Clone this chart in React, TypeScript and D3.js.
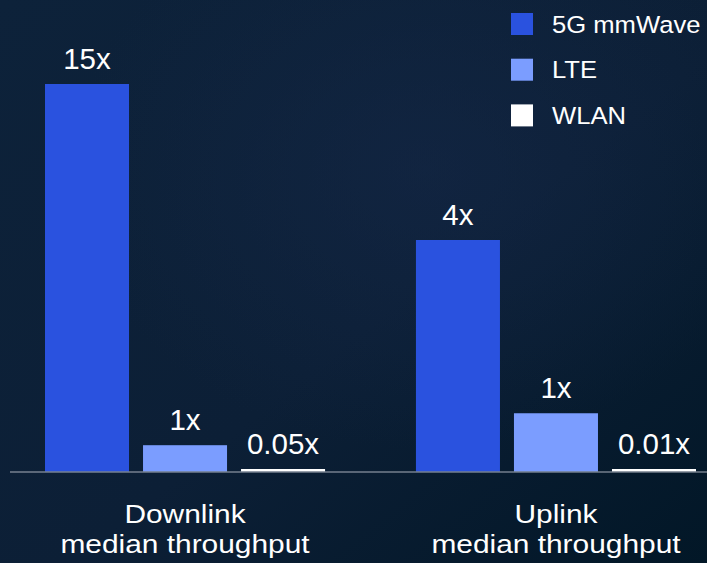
import React from "react";
import * as d3 from "d3";

const groups = ["Downlink", "Uplink"];
const groupLabelLine2 = "median throughput";
const series = ["5G mmWave", "LTE", "WLAN"];
const downlinkValues = [15, 1, 0.05];
const uplinkValues = [4, 1, 0.01];
const downlinkLabels = ["15x", "1x", "0.05x"];
const uplinkLabels = ["4x", "1x", "0.01x"];
const colors = ["#2a52df", "#7b9dff", "#ffffff"];

const W = 707;
const H = 563;
const baseline = 471;
const FONT = "'Liberation Sans', Arial, Helvetica, sans-serif";

export default function App() {
  const x0 = d3.scaleBand<string>().domain(groups).range([45, 696]).paddingInner(0.245).paddingOuter(0);
  const x1 = d3.scaleBand<string>().domain(series).range([0, x0.bandwidth()]).paddingInner(0.1429).paddingOuter(0);
  const yDown = d3.scaleLinear().domain([0, 15]).range([baseline, 84]);
  const yUp = d3.scaleLinear().domain([0, 4]).range([baseline, 240]);
  const color = d3.scaleOrdinal<string, string>().domain(series).range(colors);

  const data = [
    { g: groups[0], values: downlinkValues, labels: downlinkLabels, y: yDown },
    { g: groups[1], values: uplinkValues, labels: uplinkLabels, y: yUp },
  ];

  return (
    <svg width={W} height={H} style={{ position: "fixed", left: 0, top: 0 }} fontFamily={FONT}>
      <defs>
        <linearGradient id="bg" x1="0" y1="0" x2="1" y2="1">
          <stop offset="0%" stopColor="#0d223a" />
          <stop offset="55%" stopColor="#0c1f36" />
          <stop offset="100%" stopColor="#021727" />
        </linearGradient>
        <radialGradient id="glow" cx="0.6" cy="0.3" r="0.5">
          <stop offset="0%" stopColor="#16294a" stopOpacity={0.5} />
          <stop offset="100%" stopColor="#16294a" stopOpacity={0} />
        </radialGradient>
      </defs>
      <rect width={W} height={H} fill="url(#bg)" />
      <rect width={W} height={H} fill="url(#glow)" />

      {data.map((d) => (
        <g key={d.g} transform={`translate(${x0(d.g)},0)`}>
          {series.map((s, i) => {
            const yTop = Math.min(d.y(d.values[i]), baseline - 2);
            const bx = x1(s)!;
            return (
              <g key={s}>
                <rect x={bx} y={yTop} width={x1.bandwidth()} height={baseline - yTop + 0.5} fill={color(s)} />
                <text
                  x={bx + x1.bandwidth() / 2}
                  y={yTop - 15}
                  textAnchor="middle"
                  fill="#ffffff"
                  fontSize={29.5}
                >
                  {d.labels[i]}
                </text>
              </g>
            );
          })}
          <g transform={`translate(${x0.bandwidth() / 2},0) scale(1.15,1)`}>
            <text x={0} y={523} textAnchor="middle" fill="#ffffff" fontSize={26}>
              {d.g}
            </text>
            <text x={0} y={553} textAnchor="middle" fill="#ffffff" fontSize={26}>
              {groupLabelLine2}
            </text>
          </g>
        </g>
      ))}

      <line x1={10} x2={W} y1={472} y2={472} stroke="#a9b0bb" strokeWidth={1.2} />

      {series.map((s, i) => (
        <g key={s} transform={`translate(511,${13 + i * 45.7})`}>
          <rect width={22} height={22} fill={color(s)} />
          <text x={41} y={19.5} fill="#ffffff" fontSize={23.5} transform="translate(41,0) scale(1.09,1) translate(-41,0)">
            {s}
          </text>
        </g>
      ))}
    </svg>
  );
}
